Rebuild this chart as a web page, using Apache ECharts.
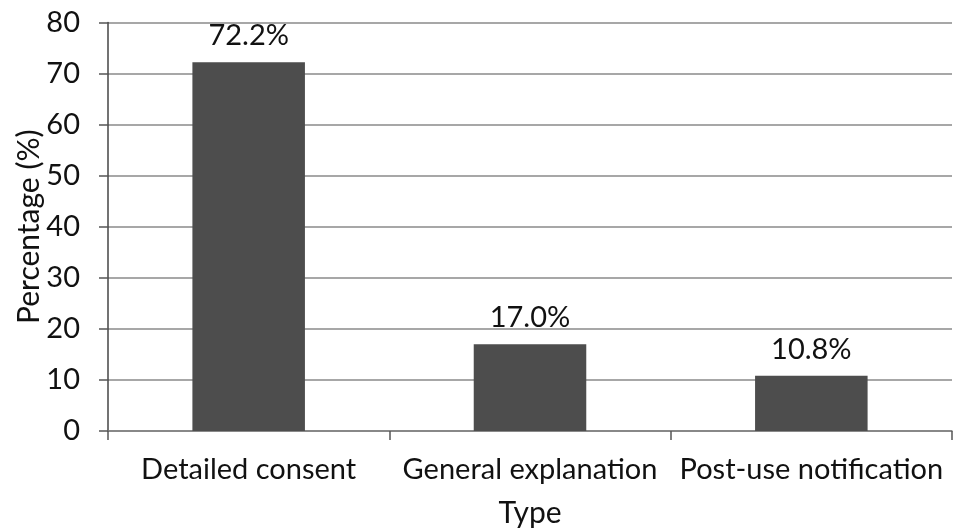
<!DOCTYPE html>
<html>
<head>
<meta charset="utf-8">
<script src="https://cdn.jsdelivr.net/npm/echarts@6/dist/echarts.min.js"></script>
<style>
  html, body { margin: 0; padding: 0; background: #fff; }
  #chart { width: 962px; height: 528px; }
</style>
</head>
<body>
<div id="chart"></div>
<script>
// Share of each consent type
const categories = ['Detailed consent', 'General explanation', 'Post-use notification'];
const percentages = [72.2, 17.0, 10.8];
const yTicks = [0, 10, 20, 30, 40, 50, 60, 70, 80];

const FONT = 'Lato, "Open Sans", sans-serif';
const TEXT = '#111111';

const chart = echarts.init(document.getElementById('chart'), null, { renderer: 'canvas' });

chart.setOption({
  animation: false,
  backgroundColor: '#ffffff',
  grid: { left: 108, right: 10, top: 22.5, bottom: 97, containLabel: false, outerBoundsMode: 'none' },
  xAxis: {
    type: 'category',
    data: categories,
    name: 'Type',
    nameLocation: 'middle',
    nameGap: 67,
    nameMoveOverlap: false,
    nameTextStyle: { fontFamily: FONT, fontSize: 30, color: TEXT },
    axisLine: { show: true, lineStyle: { color: '#7f7f7f', width: 1.5 } },
    axisTick: { show: true, length: 9, lineStyle: { color: '#555', width: 1.5 } },
    axisLabel: { fontFamily: FONT, fontSize: 29, color: TEXT, margin: 24, interval: 0 },
    splitLine: { show: false }
  },
  yAxis: {
    type: 'value',
    min: yTicks[0],
    max: yTicks[yTicks.length - 1],
    interval: 10,
    name: 'Percentage (%)',
    nameLocation: 'middle',
    nameGap: 64,
    nameRotate: 90,
    nameMoveOverlap: false,
    nameTextStyle: { fontFamily: FONT, fontSize: 30, color: TEXT },
    axisLine: { show: true, lineStyle: { color: '#444', width: 1.5 } },
    axisTick: { show: true, length: 9, lineStyle: { color: '#555', width: 1.5 } },
    axisLabel: { fontFamily: FONT, fontSize: 29, color: TEXT, margin: 28 },
    splitLine: { show: true, lineStyle: { color: '#8a8a8a', width: 1.5 } }
  },
  series: [{
    type: 'bar',
    data: percentages,
    barWidth: '40%',
    itemStyle: { color: '#4d4d4d' },
    label: {
      show: true,
      position: 'top',
      distance: 12,
      fontFamily: FONT,
      fontSize: 29,
      color: TEXT,
      formatter: p => p.value.toFixed(1) + '%'
    }
  }]
});
</script>
</body>
</html>
